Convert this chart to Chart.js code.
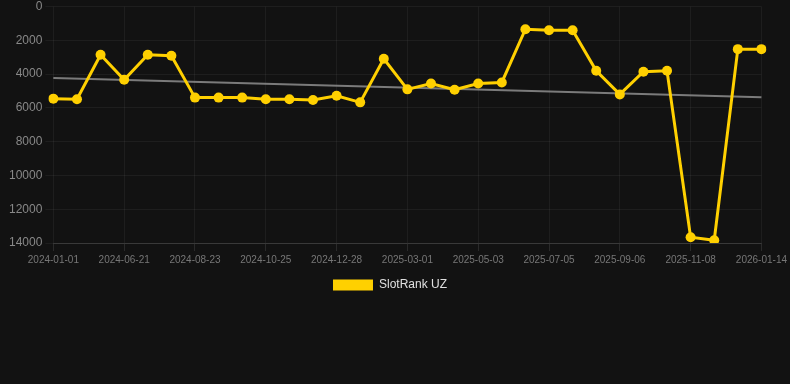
<!DOCTYPE html>
<html lang="en">
<head>
    <meta charset="UTF-8">
    <title>SlotRank UZ</title>
    <script src="https://cdn.jsdelivr.net/npm/chart.js"></script>
    <style>
        body { margin: 0; background: #121212; }
        #wrap { width: 790px; height: 301px; }
    </style>
</head>
<body>
    <div id="wrap"><canvas id="rankChart"></canvas></div>

    <script>
        // dates of each snapshot (only every 3rd one is labelled on the axis)
        const dates = [
            '2024-01-01', '2024-05-30', '2024-06-10', '2024-06-21', '2024-07-12', '2024-08-02',
            '2024-08-23', '2024-09-13', '2024-10-04', '2024-10-25', '2024-11-15', '2024-12-06',
            '2024-12-28', '2025-01-18', '2025-02-08', '2025-03-01', '2025-03-22', '2025-04-12',
            '2025-05-03', '2025-05-24', '2025-06-14', '2025-07-05', '2025-07-26', '2025-08-16',
            '2025-09-06', '2025-09-27', '2025-10-18', '2025-11-08', '2025-11-29', '2025-12-20',
            '2026-01-14'
        ];
        const rankUZ = [
            5450, 5490, 2850, 4330, 2850, 2910, 5390, 5390, 5390, 5490, 5490,
            5530, 5280, 5670, 3090, 4900, 4550, 4920, 4550, 4490, 1340, 1400,
            1400, 3800, 5200, 3860, 3800, 13660, 13840, 2520, 2520
        ];
        // trend line: first and last value only, gap spanned
        const trend = new Array(dates.length).fill(null);
        trend[0] = 4230;
        trend[dates.length - 1] = 5370;

        const ctx = document.getElementById('rankChart').getContext('2d');
        new Chart(ctx, {
            type: 'line',
            data: {
                labels: dates,
                datasets: [{
                    label: 'SlotRank UZ',
                    data: rankUZ,
                    borderColor: '#ffd000',
                    backgroundColor: '#ffd000',
                    borderWidth: 3,
                    pointRadius: 5,
                    pointBackgroundColor: '#ffd000',
                    pointBorderWidth: 0,
                    tension: 0
                }, {
                    label: 'trend',
                    data: trend,
                    borderColor: 'rgba(150, 150, 150, 0.8)',
                    borderWidth: 2,
                    pointRadius: 0,
                    spanGaps: true
                }]
            },
            options: {
                responsive: true,
                maintainAspectRatio: false,
                animation: false,
                layout: { padding: { left: 6, right: 16 } },
                plugins: {
                    legend: {
                        position: 'bottom',
                        labels: {
                            color: '#e0e0e0',
                            boxWidth: 40,
                            boxHeight: 11,
                            font: { size: 12, family: 'Liberation Sans, Arial, sans-serif' },
                            generateLabels: function (chart) {
                                const items = Chart.defaults.plugins.legend.labels.generateLabels(chart);
                                return items.filter(it => it.text !== 'trend').map(it => {
                                    it.lineWidth = 0;
                                    it.strokeStyle = 'rgba(0,0,0,0)';
                                    return it;
                                });
                            }
                        }
                    },
                    tooltip: { enabled: false }
                },
                scales: {
                    x: {
                        grid: { color: 'rgba(255,255,255,0.05)', tickColor: 'rgba(255,255,255,0.1)' },
                        border: { color: 'rgba(255,255,255,0.12)' },
                        ticks: {
                            color: '#777777',
                            autoSkip: false,
                            maxRotation: 0,
                            font: { size: 10, family: 'Liberation Sans, Arial, sans-serif' },
                            callback: function (val, i) { return i % 3 === 0 ? dates[i] : null; }
                        }
                    },
                    y: {
                        reverse: true,
                        min: 0,
                        max: 14000,
                        grid: { color: 'rgba(255,255,255,0.05)' },
                        border: { display: false },
                        ticks: {
                            stepSize: 2000,
                            color: '#888888',
                            font: { size: 12, lineHeight: 0.6, family: 'Liberation Sans, Arial, sans-serif' },
                            callback: v => String(v)
                        }
                    }
                }
            }
        });
    </script>
</body>
</html>
